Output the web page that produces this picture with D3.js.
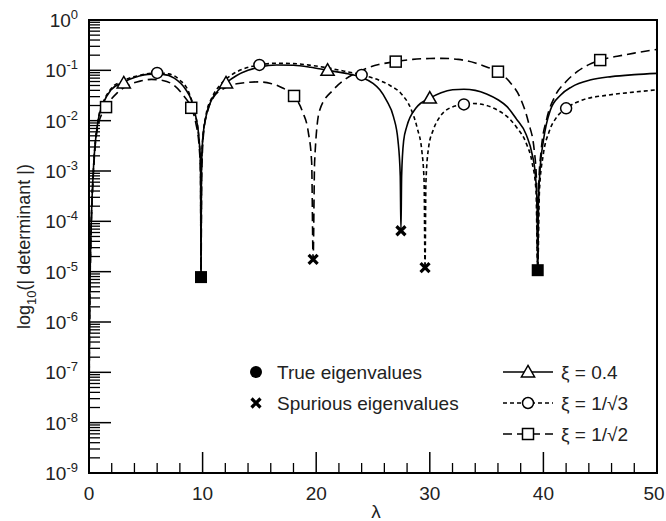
<!DOCTYPE html>
<html>
<head>
<meta charset="utf-8">
<script src="https://cdn.jsdelivr.net/npm/d3@7"></script>
<style>
  html, body { margin: 0; padding: 0; background: #fff; }
  svg text { font-family: "Liberation Sans", Arial, sans-serif; fill: #222; }
</style>
</head>
<body>
<svg id="chart" width="666" height="521"></svg>
<script>
// ---- data: [lambda, |det|] ----
const curve04 = [
  [0.004,1e-9],[0.02,8e-8],[0.05,1.2e-6],[0.1,9e-6],[0.2,1e-4],[0.4,1.2e-3],[0.8,0.01],
  [1.25,0.022],[1.9,0.04],[3,0.058],[4,0.072],[5.5,0.084],[6.5,0.083],[7.5,0.07],
  [8.5,0.042],[9.0,0.026],[9.4,0.012],[9.7,0.004],[9.82,0.0012],[9.86,7.8e-6],
  [9.9,1e-3],[10.0,0.004],[10.3,0.012],[10.8,0.026],[11.5,0.043],[12.06,0.056],[13,0.079],
  [14,0.1],[15,0.116],[16.5,0.128],[18,0.126],[19.5,0.115],[21,0.1],[22.5,0.088],[24,0.072],
  [25,0.055],[25.6,0.041],[26.2,0.025],[26.8,0.012],[27.2,0.004],[27.4,8e-4],[27.46,6.5e-5],
  [27.52,8e-4],[27.7,0.004],[27.97,0.0076],[28.8,0.018],[30,0.028],[31,0.036],[32,0.041],
  [33,0.042],[34,0.04],[35,0.034],[36,0.026],[36.8,0.019],[37.6,0.011],[38.5,0.0052],
  [39,0.0022],[39.3,8e-4],[39.45,2e-4],[39.5,1.07e-5],[39.55,2e-4],[39.7,1e-3],[40,0.004],
  [40.6,0.016],[41.5,0.032],[42.5,0.047],[44.1,0.064],[46,0.075],[48,0.082],[50,0.087]
];
const curve1s3 = [
  [0.004,1e-9],[0.02,8e-8],[0.05,1.2e-6],[0.1,9e-6],[0.2,1e-4],[0.4,1.2e-3],[0.8,0.01],
  [1.25,0.023],[1.9,0.042],[3,0.062],[4.5,0.08],[6,0.089],[7,0.085],[8,0.064],[8.8,0.036],
  [9.3,0.015],[9.65,0.005],[9.82,0.0012],[9.86,7.8e-6],[9.9,1e-3],[10.0,0.004],[10.3,0.013],
  [10.8,0.028],[11.5,0.05],[12.5,0.08],[13.5,0.105],[15,0.128],[16.5,0.138],[18,0.136],
  [19.5,0.126],[21,0.112],[22.5,0.096],[24,0.081],[25.5,0.064],[26.5,0.05],[27.5,0.034],
  [28.3,0.018],[28.9,0.007],[29.3,0.0025],[29.5,6e-4],[29.58,1.2e-5],[29.66,6e-4],
  [29.9,0.003],[30.3,0.0065],[30.9,0.012],[31.8,0.018],[33,0.021],[33.8,0.022],[35,0.02],
  [36,0.016],[37,0.011],[37.6,0.0076],[38.5,0.0035],[39,0.0015],[39.35,4e-4],[39.5,1.07e-5],
  [39.65,4e-4],[40,0.0022],[40.5,0.006],[41.2,0.012],[42,0.0176],[43.5,0.026],[45.6,0.032],
  [48,0.037],[50,0.041]
];
const curve1s2 = [
  [0.004,1e-9],[0.02,7e-8],[0.05,1e-6],[0.1,8e-6],[0.2,8e-5],[0.4,1e-3],[0.8,0.008],
  [1.5,0.0186],[2.5,0.036],[3.5,0.051],[4.5,0.061],[5.5,0.066],[6.5,0.063],[7.5,0.05],
  [8.3,0.032],[9,0.018],[9.4,0.009],[9.7,0.003],[9.82,8e-4],[9.86,7.8e-6],[9.92,8e-4],
  [10.1,0.006],[10.5,0.017],[11,0.03],[12,0.045],[13,0.054],[14.9,0.059],[16,0.055],
  [17,0.045],[18.05,0.031],[18.8,0.015],[19.3,0.006],[19.6,0.0015],[19.73,1.76e-5],
  [19.86,1.5e-3],[20.3,0.016],[21.5,0.041],[22.5,0.065],[24,0.1],[25.5,0.13],[27,0.149],
  [28.5,0.165],[30,0.172],[31,0.173],[32.5,0.165],[34,0.14],[35,0.117],[36,0.094],[37,0.06],
  [38,0.027],[38.7,0.009],[39.2,0.0025],[39.4,6e-4],[39.5,1.07e-5],[39.6,6e-4],[39.8,0.0025],
  [40.3,0.011],[41,0.03],[42,0.06],[43,0.095],[44,0.13],[45,0.16],[46.5,0.19],[48,0.22],[50,0.26]
];

const tri04 = [[3.06,0.056],[12.06,0.056],[21,0.1],[30,0.028]];
const circ1s3 = [[6,0.089],[15,0.128],[24,0.081],[33,0.021],[42,0.0176]];
const sq1s2 = [[1.5,0.0186],[9,0.018],[18.05,0.031],[27,0.149],[36,0.094],[45,0.16]];

const trueEig = [[9.86,7.8e-6],[39.5,1.07e-5]];
const spurEig = [[19.73,1.76e-5],[27.46,6.5e-5],[29.58,1.2e-5]];

const xMajor = [0,10,20,30,40,50];
const yExp = [0,-1,-2,-3,-4,-5,-6,-7,-8,-9];

// ---- layout ----
const svg = d3.select('#chart');
const L = 89, R = 657, T = 20, B = 473;

const x = d3.scaleLinear().domain([0, 50]).range([L, R]);
const y = d3.scaleLog().domain([1e-9, 1]).range([B, T]);

const g = svg.append('g');

// clip so the curves stay inside the frame
svg.append('defs').append('clipPath').attr('id', 'clip')
  .append('rect').attr('x', L).attr('y', T).attr('width', R - L).attr('height', B - T);

// y ticks (left, inward)
const yMinor = [];
yExp.forEach(e => {
  if (e === 0) return;
  for (let k = 2; k <= 9; k++) yMinor.push(k * Math.pow(10, e));
});
g.selectAll('.ymin').data(yMinor).enter().append('line')
  .attr('x1', L).attr('x2', L + 11)
  .attr('y1', d => y(d)).attr('y2', d => y(d))
  .style('stroke', '#000').style('stroke-width', 1.3);
g.selectAll('.ymaj').data(yExp).enter().append('line')
  .attr('x1', L).attr('x2', L + 22)
  .attr('y1', d => y(Math.pow(10, d))).attr('y2', d => y(Math.pow(10, d)))
  .style('stroke', '#000').style('stroke-width', 1.5);

// y labels: 10^n
const yl = g.selectAll('.ylab').data(yExp).enter().append('text')
  .attr('x', 78).attr('y', d => y(Math.pow(10, d)) + 7)
  .attr('text-anchor', 'end')
  .style('font-size', '19px');
yl.append('tspan').text('10');
yl.append('tspan').attr('dy', -8).style('font-size', '13px').text(d => d);

// x ticks (bottom, inward)
const xMinor = d3.range(2, 50, 2).filter(v => v % 10 !== 0);
g.selectAll('.xmin').data(xMinor).enter().append('line')
  .attr('x1', d => x(d)).attr('x2', d => x(d))
  .attr('y1', B).attr('y2', B - 10)
  .style('stroke', '#000').style('stroke-width', 1.3);
g.selectAll('.xmaj').data(xMajor).enter().append('line')
  .attr('x1', d => x(d)).attr('x2', d => x(d))
  .attr('y1', B).attr('y2', B - 21)
  .style('stroke', '#000').style('stroke-width', 1.5);
g.selectAll('.xlab').data(xMajor).enter().append('text')
  .attr('x', d => Math.min(x(d), 665 - 11))
  .attr('y', B + 27)
  .attr('text-anchor', 'middle')
  .style('font-size', '19px')
  .text(d => d);

// frame
g.append('rect').attr('x', L).attr('y', T).attr('width', R - L).attr('height', B - T)
  .style('fill', 'none').style('stroke', '#000').style('stroke-width', 2);

// axis titles
g.append('text').attr('x', 376).attr('y', 518).attr('text-anchor', 'middle')
  .style('font-size', '19px').text('λ');
const yt = g.append('text')
  .attr('transform', `translate(30, ${(T + B) / 2}) rotate(-90)`)
  .attr('text-anchor', 'middle')
  .style('font-size', '18px');
yt.append('tspan').text('log');
yt.append('tspan').attr('dy', 6).style('font-size', '13px').text('10');
yt.append('tspan').attr('dy', -6).text('(| determinant |)');

// curves
const line = d3.line()
  .x(d => x(d[0])).y(d => y(d[1]))
  .curve(d3.curveMonotoneX);

const series = [
  { data: curve04, dash: null },
  { data: curve1s3, dash: '4,3' },
  { data: curve1s2, dash: '9,5' }
];
const cg = g.append('g').attr('clip-path', 'url(#clip)');
series.forEach(s => {
  cg.append('path').datum(s.data)
    .attr('d', line)
    .style('fill', 'none').style('stroke', '#000').style('stroke-width', 1.6)
    .style('stroke-dasharray', s.dash);
});

// symbols
function tri(sel, cx, cy, s) {
  sel.append('path')
    .attr('d', `M${cx},${cy - s * 0.6}L${cx + s * 0.6},${cy + s * 0.45}L${cx - s * 0.6},${cy + s * 0.45}Z`)
    .style('fill', '#fff').style('stroke', '#000').style('stroke-width', 1.5);
}
function circ(sel, cx, cy, r) {
  sel.append('circle').attr('cx', cx).attr('cy', cy).attr('r', r)
    .style('fill', '#fff').style('stroke', '#000').style('stroke-width', 1.5);
}
function sq(sel, cx, cy, s) {
  sel.append('rect').attr('x', cx - s / 2).attr('y', cy - s / 2).attr('width', s).attr('height', s)
    .style('fill', '#fff').style('stroke', '#000').style('stroke-width', 1.5);
}
function cross(sel, cx, cy, s) {
  sel.append('path')
    .attr('d', `M${cx - s},${cy - s}L${cx + s},${cy + s}M${cx - s},${cy + s}L${cx + s},${cy - s}`)
    .style('stroke', '#000').style('stroke-width', 3.2);
}

const mg = g.append('g');
tri04.forEach(d => tri(mg, x(d[0]), y(d[1]), 11));
circ1s3.forEach(d => circ(mg, x(d[0]), y(d[1]), 5.5));
sq1s2.forEach(d => sq(mg, x(d[0]), y(d[1]), 11));
trueEig.forEach(d => {
  mg.append('rect').attr('x', x(d[0]) - 6).attr('y', y(d[1]) - 6).attr('width', 12).attr('height', 12)
    .style('fill', '#000');
});
spurEig.forEach(d => cross(mg, x(d[0]), y(d[1]), 4.5));

// legend
const lg = g.append('g');
lg.append('circle').attr('cx', 256).attr('cy', 372).attr('r', 6).style('fill', '#000');
lg.append('text').attr('x', 277).attr('y', 379).style('font-size', '19px').text('True eigenvalues');
cross(lg, 256, 403, 4.5);
lg.append('text').attr('x', 277).attr('y', 410).style('font-size', '19px').text('Spurious eigenvalues');

const legRows = [
  { y: 372, dash: null, sym: 'tri', label: '0.4' },
  { y: 403, dash: '4,3', sym: 'circ', label: '1/√3' },
  { y: 434, dash: '9,5', sym: 'sq', label: '1/√2' }
];
legRows.forEach(r => {
  lg.append('line').attr('x1', 503).attr('x2', 553).attr('y1', r.y).attr('y2', r.y)
    .style('stroke', '#000').style('stroke-width', 1.6).style('stroke-dasharray', r.dash);
  if (r.sym === 'tri') tri(lg, 528, r.y, 11);
  if (r.sym === 'circ') circ(lg, 528, r.y, 5.5);
  if (r.sym === 'sq') sq(lg, 528, r.y, 11);
  lg.append('text').attr('x', 561).attr('y', r.y + 7).style('font-size', '19px')
    .text('ξ = ' + r.label);
});
</script>
</body>
</html>
